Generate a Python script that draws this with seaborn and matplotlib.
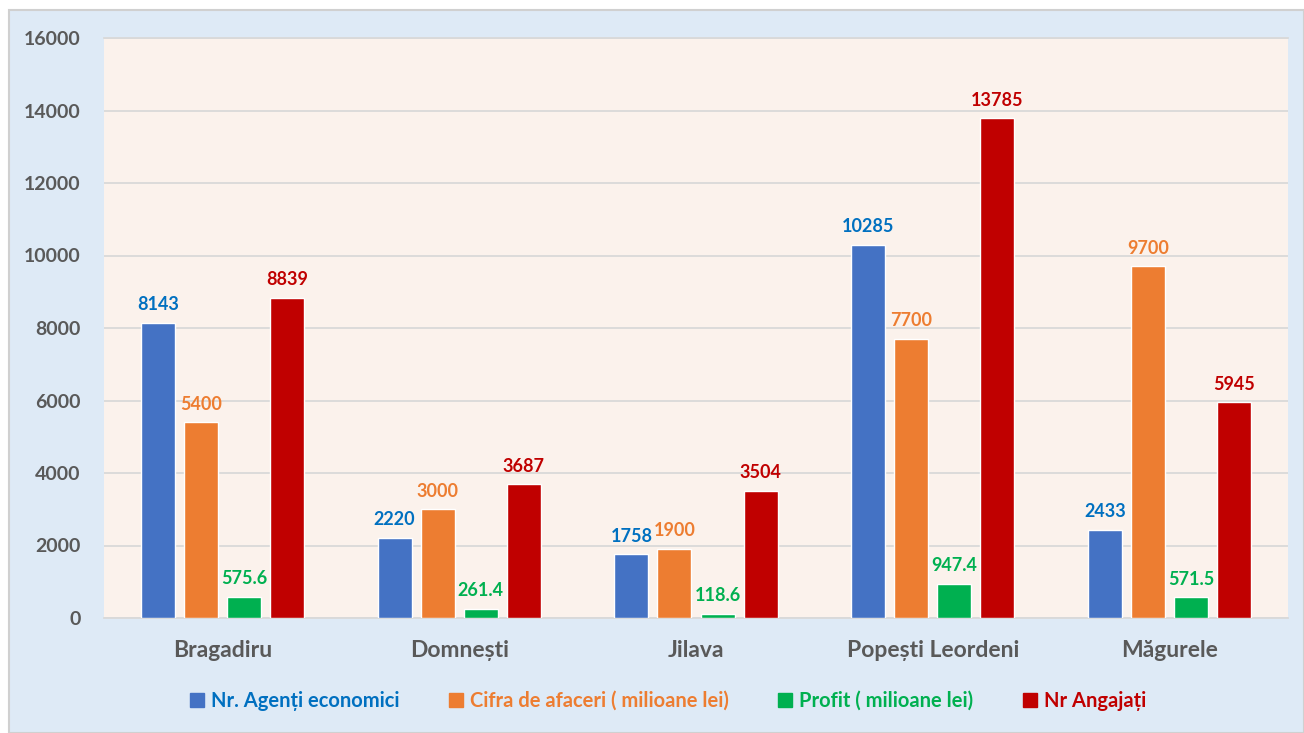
import matplotlib
matplotlib.use("Agg")
import matplotlib.pyplot as plt
from matplotlib.patches import Rectangle
from matplotlib.lines import Line2D
import seaborn as sns
import pandas as pd

# Localities and indicators
localities = ["Bragadiru", "Domnești", "Jilava", "Popești Leordeni", "Măgurele"]
series_names = ["Nr. Agenți economici", "Cifra de afaceri ( milioane lei)",
                "Profit ( milioane lei)", "Nr Angajați"]
agenti = [8143, 2220, 1758, 10285, 2433]
cifra = [5400, 3000, 1900, 7700, 9700]
profit = [575.6, 261.4, 118.6, 947.4, 571.5]
angajati = [8839, 3687, 3504, 13785, 5945]
label_texts = [
    ["8143", "2220", "1758", "10285", "2433"],
    ["5400", "3000", "1900", "7700", "9700"],
    ["575.6", "261.4", "118.6", "947.4", "571.5"],
    ["8839", "3687", "3504", "13785", "5945"],
]
y_ticks = [0, 2000, 4000, 6000, 8000, 10000, 12000, 14000, 16000]

bar_colors = ["#4472C4", "#ED7D31", "#00B050", "#C00000"]
text_colors = ["#0070C0", "#ED7D31", "#00B050", "#C00000"]

rows = []
for name, vals in zip(series_names, [agenti, cifra, profit, angajati]):
    for loc, v in zip(localities, vals):
        rows.append({"Localitate": loc, "Indicator": name, "Valoare": v})
df = pd.DataFrame(rows)

sns.set_theme(style="white")
plt.rcParams["font.family"] = ["Lato", "DejaVu Sans"]
plt.rcParams["font.weight"] = "bold"

fig = plt.figure(figsize=(13.04, 7.33), dpi=100)
fig.patch.set_facecolor("white")
# chart background panel
panel = Rectangle((9 / 1304, 0), 1 - 9 / 1304, 1 - 10 / 733,
                  transform=fig.transFigure, facecolor="#DEEAF6",
                  edgecolor="#D0D0D0", linewidth=1.5, zorder=-10)
fig.patches.append(panel)

ax = fig.add_axes([104 / 1304, 1 - 618 / 733, (1288 - 104) / 1304, (618 - 38) / 733])
ax.set_zorder(1)
ax.set_facecolor("#FBF2EC")

sns.barplot(data=df, x="Localitate", y="Valoare", hue="Indicator",
            hue_order=series_names, order=localities, palette=bar_colors,
            width=0.727, gap=0.21, saturation=1, ax=ax, legend=False, zorder=3)

for container, texts, col in zip(ax.containers, label_texts, text_colors):
    ax.bar_label(container, labels=texts, padding=7, color=col,
                 fontsize=13, fontweight="bold")

ax.set_ylim(0, 16000)
ax.set_yticks(y_ticks)
ax.set_yticklabels([str(t) for t in y_ticks])
ax.set_xlim(-0.5, len(localities) - 0.5)
ax.grid(axis="y", color="#D9D9D9", linewidth=1.3, zorder=0)
ax.set_axisbelow(True)
for s in ["left", "right"]:
    ax.spines[s].set_visible(False)
ax.spines["top"].set_color("#D9D9D9")
ax.spines["top"].set_linewidth(1.3)
ax.spines["bottom"].set_color("#D9D9D9")
ax.spines["bottom"].set_linewidth(1.3)
ax.tick_params(axis="y", length=0, pad=17, labelsize=14, labelcolor="#595959")
ax.tick_params(axis="x", length=0, pad=16, labelsize=16.5, labelcolor="#595959")
for lab in ax.get_xticklabels() + ax.get_yticklabels():
    lab.set_fontweight("bold")
ax.set_xlabel("")
ax.set_ylabel("")

handles = [Line2D([0], [0], marker="s", linestyle="none", markersize=10,
                  markerfacecolor=c, markeredgecolor=c) for c in bar_colors]
leg = fig.legend(handles, series_names, loc="center", bbox_to_anchor=(0.512, 1 - 701 / 733),
                 ncol=4, frameon=False, fontsize=14.5, handletextpad=0.3,
                 columnspacing=2.4, handlelength=0.8)
for t, c in zip(leg.get_texts(), text_colors):
    t.set_color(c)
    t.set_fontweight("bold")

fig.savefig("out.png", dpi=100, facecolor=fig.get_facecolor())
